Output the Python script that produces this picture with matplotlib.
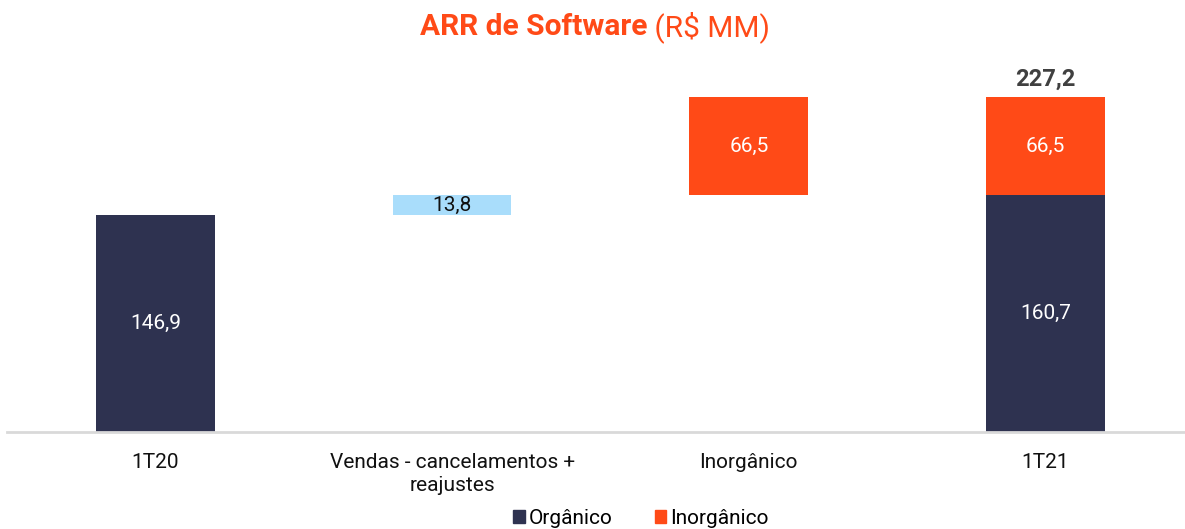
import matplotlib.pyplot as plt
from matplotlib.patches import Patch

plt.rcParams['font.family'] = ['Roboto', 'DejaVu Sans']

# ARR de software, waterfall 1T20 -> 1T21 (R$ MM)
categories = ["1T20", "Vendas - cancelamentos +\nreajustes", "Inorgânico", "1T21"]
organico = [146.9, 0.0, 0.0, 160.7]
vendas = [0.0, 13.8, 0.0, 0.0]
inorganico = [0.0, 0.0, 66.5, 66.5]
total_1t21 = 227.2

navy = "#2E3250"
orange = "#FF4A17"
light_blue = "#A9DDFB"


def fmt(v):
    return "{:.1f}".format(v).replace(".", ",")


fig = plt.figure(figsize=(11.85, 5.29), dpi=100)
ax = fig.add_axes([7 / 1185, 97 / 529, 1 - 7 / 1185, (432 - 63.5) / 529])

x = list(range(len(categories)))
w = 0.4

# floating bases for the waterfall
base_vendas = [0.0, organico[0], 0.0, 0.0]
base_inorg = [0.0, 0.0, organico[0] + vendas[1], organico[3]]

ax.bar(x, organico, width=w, color=navy)
ax.bar(x, vendas, width=w, bottom=base_vendas, color=light_blue)
ax.bar(x, inorganico, width=w, bottom=base_inorg, color=orange)

for i in x:
    if organico[i] > 0:
        ax.text(i, organico[i] / 2, fmt(organico[i]), ha="center", va="center",
                color="white", fontsize=15)
    if vendas[i] > 0:
        ax.text(i, base_vendas[i] + vendas[i] / 2, fmt(vendas[i]), ha="center",
                va="center", color="#111111", fontsize=15)
    if inorganico[i] > 0:
        ax.text(i, base_inorg[i] + inorganico[i] / 2, fmt(inorganico[i]),
                ha="center", va="center", color="white", fontsize=15)

ax.text(3, total_1t21 + 4, fmt(total_1t21), ha="center", va="bottom",
        color="#404040", fontsize=17, fontweight="bold")

ax.set_xlim(-0.5, 3.47)
ax.set_ylim(0, 250)
ax.set_yticks([])
ax.set_xticks(x)
ax.set_xticklabels(categories, fontsize=15, color="#111111", linespacing=1.25)
ax.tick_params(axis="x", length=0, pad=15)
for s in ["top", "right", "left"]:
    ax.spines[s].set_visible(False)
ax.spines["bottom"].set_color("#D9D9D9")
ax.spines["bottom"].set_linewidth(2)

# title: bold part + regular part, centred together
ty = 1 - 27 / 529
t1 = fig.text(0.5, ty, "ARR de Software", ha="left", va="center",
              color=orange, fontsize=21.5, fontweight="bold")
t2 = fig.text(0.5, ty, " (R$ MM)", ha="left", va="center",
              color=orange, fontsize=21.5)
fig.canvas.draw()
r = fig.canvas.get_renderer()
w1 = t1.get_window_extent(r).width / fig.bbox.width
w2 = t2.get_window_extent(r).width / fig.bbox.width
x0 = 595 / 1185 - (w1 + w2) / 2
t1.set_x(x0)
t2.set_x(x0 + w1)

handles = [Patch(color=navy, label="Orgânico"), Patch(color=orange, label="Inorgânico")]
fig.legend(handles=handles, loc="center", bbox_to_anchor=(641 / 1185, 1 - 518 / 529),
           ncol=2, frameon=False, fontsize=15, handlelength=0.57, handleheight=0.57,
           handletextpad=0.2, columnspacing=2.0, borderpad=0)

fig.savefig("out.png", dpi=100)
